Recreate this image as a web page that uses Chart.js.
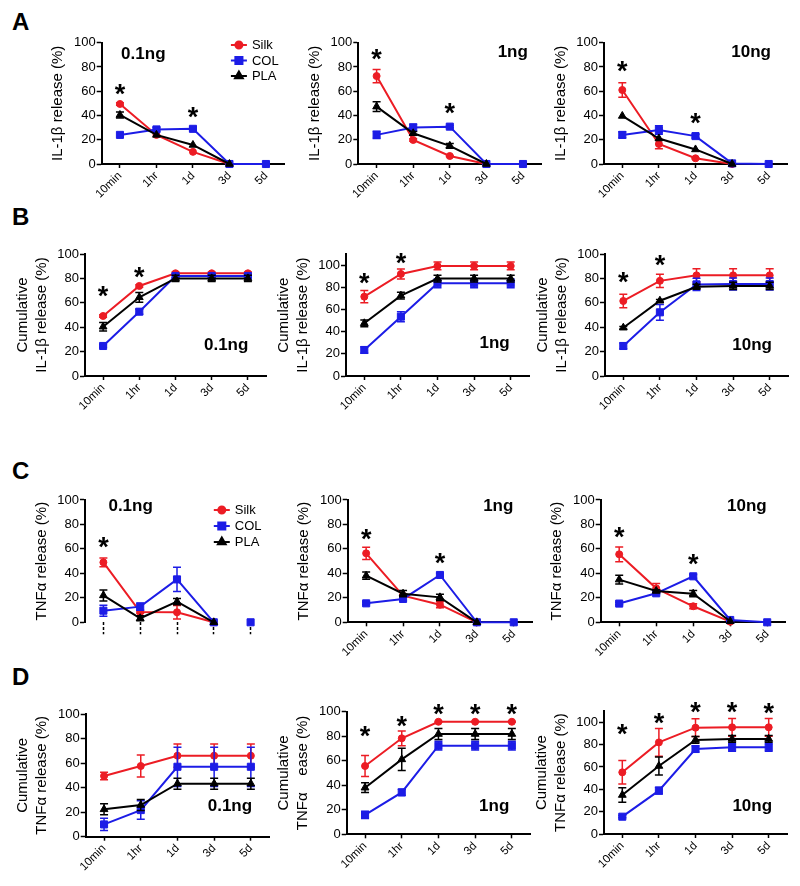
<!DOCTYPE html>
<html>
<head>
<meta charset="utf-8">
<script src="https://cdn.jsdelivr.net/npm/chart.js@4.4.1/dist/chart.umd.min.js"></script>
<style>
  body { margin: 0; background: #fff; }
  #fig { position: relative; width: 800px; height: 886px; overflow: hidden; background: #fff; }
  #fig canvas { position: absolute; }
  .letter { position: absolute; left: 12px; font: bold 24px Arial, 'Liberation Sans', sans-serif; line-height: 1; color: #000; }
</style>
</head>
<body>
<div id="fig">
  <div class="letter" style="top:10px">A</div>
  <div class="letter" style="top:205px">B</div>
  <div class="letter" style="top:459px">C</div>
  <div class="letter" style="top:665px">D</div>
</div>
<script>
Chart.defaults.font.family = "Arial, 'Liberation Sans', Helvetica, sans-serif";
Chart.defaults.color = '#000';

// Axis categories and ticks
const timepoints = ['10min', '1hr', '1d', '3d', '5d'];
const yTicks = [0, 20, 40, 60, 80, 100];
const seriesNames = ['Silk', 'COL', 'PLA'];

// Colors for the three scaffolds
const silkColor = '#ec1c24';
const colColor = '#1c1ce6';
const plaColor = '#000000';

// A - IL-1β release (%)
const il1bSilk01 = [49.5, 24, 10, 0, null];
const il1bSilk01Err = [1, 0, 0, 0, 0];
const il1bCol01 = [24, 28.5, 29, 0, 0];
const il1bCol01Err = [0, 1.5, 1.5, 0, 0];
const il1bPla01 = [40.4, 24, 15.7, 0, null];
const il1bPla01Err = [2.5, 0, 0, 0, 0];
const il1bStars01 = [62.4, null, 43.7, null, null];

const il1bSilk1 = [72.5, 19.8, 6.6, 0, null];
const il1bSilk1Err = [5.5, 1, 0.5, 0, 0];
const il1bCol1 = [24, 30, 30.8, 0, 0];
const il1bCol1Err = [3, 3, 1, 0, 0];
const il1bPla1 = [47.3, 25.3, 15, 0, null];
const il1bPla1Err = [4, 1.5, 2, 0, 0];
const il1bStars1 = [91.2, null, 47.3, null, null];

const il1bSilk10 = [61, 16.5, 4.7, 0, null];
const il1bSilk10Err = [6, 4, 0.5, 0, 0];
const il1bCol10 = [24, 28, 23, 0.5, 0];
const il1bCol10Err = [2.5, 3.5, 1.5, 0, 0];
const il1bPla10 = [39.6, 21, 12, 0, null];
const il1bPla10Err = [0, 0, 0, 0, 0];
const il1bStars10 = [81.6, null, 39, null, null];

// B - cumulative IL-1β release (%)
const cumIl1bSilk01 = [49.2, 73.8, 84.2, 84.2, 84.2];
const cumIl1bSilk01Err = [1, 1, 1, 1, 1];
const cumIl1bCol01 = [24.6, 52.7, 82, 82, 82];
const cumIl1bCol01Err = [1, 2, 1.5, 1.5, 1.5];
const cumIl1bPla01 = [40.4, 64.5, 80, 80, 80];
const cumIl1bPla01Err = [3.5, 4, 2.5, 2.5, 2.5];
const cumIl1bStars01 = [70.5, 86.3, null, null, null];

const cumIl1bSilk1 = [71.7, 92.2, 99.4, 99.4, 99.4];
const cumIl1bSilk1Err = [5.5, 4.5, 3.5, 3.5, 3.5];
const cumIl1bCol1 = [23.5, 53.6, 83.7, 83.7, 83.7];
const cumIl1bCol1Err = [3, 4.5, 4, 4, 4];
const cumIl1bPla1 = [47.6, 72.6, 88, 88, 88];
const cumIl1bPla1Err = [3, 3, 3, 3, 3];
const cumIl1bStars1 = [89.8, 107.8, null, null, null];

const cumIl1bSilk10 = [61.5, 78, 82.5, 82.5, 82.5];
const cumIl1bSilk10Err = [5.5, 5.5, 5.5, 5.5, 5.5];
const cumIl1bCol10 = [24.6, 52.2, 75.1, 75.4, 75.4];
const cumIl1bCol10Err = [2.5, 6.5, 5, 5, 5];
const cumIl1bPla10 = [39.6, 61.7, 73.2, 73.8, 73.8];
const cumIl1bPla10Err = [1, 1, 2, 3, 3];
const cumIl1bStars10 = [82, 95.6, null, null, null];

// C - TNFα release (%)
const tnfSilk01 = [49, 8.4, 8.2, 0, null];
const tnfSilk01Err = [3.5, 1, 5.5, 0, 0];
const tnfCol01 = [9.5, 12.8, 35.1, 0, 0];
const tnfCol01Err = [4.5, 3, 10, 0, 0];
const tnfPla01 = [22, 3.3, 16.9, 0, null];
const tnfPla01Err = [4.5, 2, 2.5, 0, 0];
const tnfStars01 = [66.8, null, null, null, null];

const tnfSilk1 = [56.4, 21.8, 14.4, 0, null];
const tnfSilk1Err = [5, 1, 2.5, 0, 0];
const tnfCol1 = [15.5, 19.1, 38.7, 0, 0];
const tnfCol1Err = [1, 1.5, 1.5, 0, 0];
const tnfPla1 = [38.1, 23.4, 20.4, 0, null];
const tnfPla1Err = [3, 2.5, 2.5, 0, 0];
const tnfStars1 = [73.3, null, 53.1, null, null];

const tnfSilk10 = [55.6, 27.8, 13.1, 0.5, null];
const tnfSilk10Err = [6, 4, 2, 0, 0];
const tnfCol10 = [15.3, 23.7, 37.6, 1.9, 0];
const tnfCol10Err = [1, 1, 1.5, 0.5, 0];
const tnfPla10 = [34.9, 25.6, 23.4, 0.8, null];
const tnfPla10Err = [3.5, 1, 2.5, 0, 0];
const tnfStars10 = [75, null, 52.3, null, null];

// D - cumulative TNFα release (%)
const cumTnfSilk01 = [49.5, 57.6, 66, 66, 66];
const cumTnfSilk01Err = [3, 9, 9.5, 9.5, 9.5];
const cumTnfCol01 = [10, 21.7, 57, 57, 57];
const cumTnfCol01Err = [5, 7.5, 16, 16, 16];
const cumTnfPla01 = [22.3, 25.8, 43.2, 43.2, 43.2];
const cumTnfPla01Err = [4.5, 4.5, 4.5, 4.5, 4.5];
const cumTnfStars01 = [null, null, null, null, null];

const cumTnfSilk1 = [55.7, 78.3, 91.8, 91.8, 91.8];
const cumTnfSilk1Err = [8.5, 6, 0.5, 0.5, 0.5];
const cumTnfCol1 = [15.8, 34.2, 72.3, 72.3, 72.3];
const cumTnfCol1Err = [3, 2.5, 3.5, 3.5, 3.5];
const cumTnfPla1 = [38, 61.1, 81.8, 81.8, 81.8];
const cumTnfPla1Err = [4, 9, 4.5, 4.5, 4.5];
const cumTnfStars1 = [85, 93.2, 103.3, 103.3, 102.7];

const cumTnfSilk10 = [55.2, 82, 95.2, 95.5, 95.5];
const cumTnfSilk10Err = [10.5, 12.5, 8, 8, 8];
const cumTnfCol10 = [15.5, 38.8, 76.1, 77.6, 77.6];
const cumTnfCol10Err = [1, 3, 3, 3.5, 3.5];
const cumTnfPla10 = [34.9, 60.9, 84.2, 85.1, 85.1];
const cumTnfPla10Err = [6.5, 8, 3, 3, 3];
const cumTnfStars10 = [94.6, 105, 114.6, 114.6, 114];

const il1bTitle = 'IL-1β release (%)';
const cumIl1bTitle = ['Cumulative', 'IL-1β release (%)'];
const tnfTitle = 'TNFα release (%)';
const cumTnfTitle = ['Cumulative', 'TNFα release (%)'];
const cumTnfTitleCut = ['Cumulative', 'TNFα    ease (%)'];

const seriesStyle = [
    { color: silkColor, pointStyle: 'circle', radius: 3.5, order: 3 },
    { color: colColor, pointStyle: 'rect', radius: 5, order: 2 },
    { color: plaColor, pointStyle: 'triangle', radius: 4.5, order: 1 }
];

// Panel placement (plot area position on the page) and annotations
const panels = [
    { title: il1bTitle, dose: '0.1ng', doseAt: [0.64, 90.4], legend: [3.04, 98.1, 15.5],
      axisX: 101.7, plotW: 182.5, y0: 164, pxPer: 1.213, ymax: 100,
      series: [il1bSilk01, il1bCol01, il1bPla01], errs: [il1bSilk01Err, il1bCol01Err, il1bPla01Err], stars: il1bStars01 },
    { title: il1bTitle, dose: '1ng', doseAt: [3.72, 91.8],
      axisX: 358.3, plotW: 183, y0: 164, pxPer: 1.213, ymax: 100,
      series: [il1bSilk1, il1bCol1, il1bPla1], errs: [il1bSilk1Err, il1bCol1Err, il1bPla1Err], stars: il1bStars1 },
    { title: il1bTitle, dose: '10ng', doseAt: [3.52, 91.8],
      axisX: 604, plotW: 183, y0: 164, pxPer: 1.213, ymax: 100,
      series: [il1bSilk10, il1bCol10, il1bPla10], errs: [il1bSilk10Err, il1bCol10Err, il1bPla10Err], stars: il1bStars10 },

    { title: cumIl1bTitle, dose: '0.1ng', doseAt: [3.40, 25.4],
      axisX: 85, plotW: 181, y0: 376, pxPer: 1.22, ymax: 100,
      series: [cumIl1bSilk01, cumIl1bCol01, cumIl1bPla01], errs: [cumIl1bSilk01Err, cumIl1bCol01Err, cumIl1bPla01Err], stars: cumIl1bStars01 },
    { title: cumIl1bTitle, dose: '1ng', doseAt: [3.56, 29.5],
      axisX: 346, plotW: 183, y0: 376, pxPer: 1.107, ymax: 110,
      series: [cumIl1bSilk1, cumIl1bCol1, cumIl1bPla1], errs: [cumIl1bSilk1Err, cumIl1bCol1Err, cumIl1bPla1Err], stars: cumIl1bStars1 },
    { title: cumIl1bTitle, dose: '10ng', doseAt: [3.52, 25.4],
      axisX: 605, plotW: 183, y0: 376, pxPer: 1.22, ymax: 100,
      series: [cumIl1bSilk10, cumIl1bCol10, cumIl1bPla10], errs: [cumIl1bSilk10Err, cumIl1bCol10Err, cumIl1bPla10Err], stars: cumIl1bStars10 },

    { title: tnfTitle, dose: '0.1ng', doseAt: [0.74, 94.5], legend: [3.0, 91.8, 16], bareX: true,
      axisX: 85, plotW: 184, y0: 622.3, pxPer: 1.223, ymax: 100,
      series: [tnfSilk01, tnfCol01, tnfPla01], errs: [tnfSilk01Err, tnfCol01Err, tnfPla01Err], stars: tnfStars01 },
    { title: tnfTitle, dose: '1ng', doseAt: [3.58, 94.5],
      axisX: 347.7, plotW: 184.5, y0: 622.3, pxPer: 1.223, ymax: 100,
      series: [tnfSilk1, tnfCol1, tnfPla1], errs: [tnfSilk1Err, tnfCol1Err, tnfPla1Err], stars: tnfStars1 },
    { title: tnfTitle, dose: '10ng', doseAt: [3.45, 94.5],
      axisX: 600.7, plotW: 185, y0: 622.3, pxPer: 1.223, ymax: 100,
      series: [tnfSilk10, tnfCol10, tnfPla10], errs: [tnfSilk10Err, tnfCol10Err, tnfPla10Err], stars: tnfStars10 },

    { title: cumTnfTitle, dose: '0.1ng', doseAt: [3.43, 24.5],
      axisX: 85.7, plotW: 183.5, y0: 836.7, pxPer: 1.227, ymax: 100,
      series: [cumTnfSilk01, cumTnfCol01, cumTnfPla01], errs: [cumTnfSilk01Err, cumTnfCol01Err, cumTnfPla01Err], stars: cumTnfStars01 },
    { title: cumTnfTitleCut, dose: '1ng', doseAt: [3.52, 22.5],
      axisX: 346.7, plotW: 183.5, y0: 834.3, pxPer: 1.226, ymax: 100,
      series: [cumTnfSilk1, cumTnfCol1, cumTnfPla1], errs: [cumTnfSilk1Err, cumTnfCol1Err, cumTnfPla1Err], stars: cumTnfStars1 },
    { title: cumTnfTitle, dose: '10ng', doseAt: [3.55, 24.4],
      axisX: 604, plotW: 183, y0: 834, pxPer: 1.117, ymax: 110,
      series: [cumTnfSilk10, cumTnfCol10, cumTnfPla10], errs: [cumTnfSilk10Err, cumTnfCol10Err, cumTnfPla10Err], stars: cumTnfStars10 }
];

// Error bars, asterisks, dose labels and the small legends
const panelExtras = {
    id: 'panelExtras',
    beforeDatasetDraw(chart, args) {
        const ds = chart.data.datasets[args.index];
        if (!ds.errors) return;
        const yScale = chart.scales.y;
        const ctx = chart.ctx;
        ctx.save();
        ctx.strokeStyle = ds.borderColor;
        ctx.lineWidth = 1.5;
        args.meta.data.forEach((pt, i) => {
            const v = ds.data[i];
            const e = ds.errors[i];
            if (v == null || !e) return;
            const yt = yScale.getPixelForValue(v + e);
            const yb = yScale.getPixelForValue(Math.max(v - e, 0));
            ctx.beginPath();
            ctx.moveTo(pt.x, yt); ctx.lineTo(pt.x, yb);
            ctx.moveTo(pt.x - 4, yt); ctx.lineTo(pt.x + 4, yt);
            ctx.moveTo(pt.x - 4, yb); ctx.lineTo(pt.x + 4, yb);
            ctx.stroke();
        });
        ctx.restore();
    },
    afterDraw(chart, args, opts) {
        const ctx = chart.ctx;
        const xs = chart.scales.x;
        const ys = chart.scales.y;
        ctx.save();
        ctx.fillStyle = '#000';
        ctx.textAlign = 'center';
        ctx.textBaseline = 'alphabetic';

        // significance asterisks
        ctx.font = "bold 27px Arial, 'Liberation Sans', sans-serif";
        opts.stars.forEach((v, i) => {
            if (v == null) return;
            ctx.fillText('*', xs.getPixelForValue(i), ys.getPixelForValue(v) + 15);
        });

        // dose label
        ctx.font = "bold 17px Arial, 'Liberation Sans', sans-serif";
        ctx.fillText(opts.dose, xs.getPixelForValue(opts.doseAt[0]), ys.getPixelForValue(opts.doseAt[1]) + 4.5);

        // legend
        if (opts.legend) {
            const [li, lv, gap] = opts.legend;
            const lx = xs.getPixelForValue(li);
            const ly = ys.getPixelForValue(lv);
            ctx.font = "13px Arial, 'Liberation Sans', sans-serif";
            ctx.textAlign = 'left';
            ctx.textBaseline = 'middle';
            chart.data.datasets.forEach((ds, k) => {
                const y = ly + k * gap;
                ctx.strokeStyle = ds.borderColor;
                ctx.fillStyle = ds.borderColor;
                ctx.lineWidth = 2;
                ctx.beginPath();
                ctx.moveTo(lx, y); ctx.lineTo(lx + 16, y);
                ctx.stroke();
                Chart.helpers.drawPoint(ctx, {
                    pointStyle: ds.pointStyle, radius: ds.pointRadius, rotation: 0, borderWidth: 1
                }, lx + 8, y);
                ctx.fillStyle = '#000';
                ctx.fillText(ds.label, lx + 21, y + 0.5);
            });
        }
        ctx.restore();
    }
};

const fig = document.getElementById('fig');

panels.forEach(p => {
    const plotH = p.ymax * p.pxPer;
    const plotTop = p.y0 - plotH;
    const left = Math.floor(p.axisX - 76);
    const top = Math.floor(plotTop - 32);
    const width = Math.ceil(p.axisX + p.plotW + 14) - left;
    const height = Math.ceil(p.y0 + 46) - top;
    const yAxisW = p.axisX - left;
    const padTop = plotTop - top;
    const padRight = width - yAxisW - p.plotW;
    const xAxisH = height - (p.y0 - top);
    const twoLine = Array.isArray(p.title);

    const canvas = document.createElement('canvas');
    canvas.width = width;
    canvas.height = height;
    canvas.style.left = left + 'px';
    canvas.style.top = top + 'px';
    canvas.style.width = width + 'px';
    canvas.style.height = height + 'px';
    fig.appendChild(canvas);

    const datasets = p.series.map((vals, k) => ({
        label: seriesNames[k],
        data: vals,
        errors: p.errs[k],
        borderColor: seriesStyle[k].color,
        backgroundColor: seriesStyle[k].color,
        pointBackgroundColor: seriesStyle[k].color,
        pointBorderColor: seriesStyle[k].color,
        pointStyle: seriesStyle[k].pointStyle,
        pointRadius: seriesStyle[k].radius,
        pointBorderWidth: 1,
        borderWidth: 2,
        tension: 0,
        clip: false,
        order: seriesStyle[k].order,
        segment: {
            borderColor: ctx => (p.bareX && ctx.p1DataIndex === 4) ? 'rgba(0,0,0,0)' : undefined
        }
    }));

    new Chart(canvas, {
        type: 'line',
        data: { labels: timepoints, datasets: datasets },
        options: {
            responsive: false,
            animation: false,
            events: [],
            layout: { padding: { top: padTop, right: padRight, left: 0, bottom: 0 } },
            plugins: {
                legend: { display: false },
                tooltip: { enabled: false },
                panelExtras: { stars: p.stars, dose: p.dose, doseAt: p.doseAt, legend: p.legend }
            },
            scales: {
                x: {
                    type: 'category',
                    offset: true,
                    border: { display: !p.bareX, width: 2, color: '#000' },
                    grid: {
                        display: true, drawOnChartArea: false, drawTicks: true,
                        tickLength: p.bareX ? 12 : 4, tickWidth: 1.5, tickColor: '#000',
                        tickBorderDash: p.bareX ? [3, 2] : []
                    },
                    ticks: {
                        display: !p.bareX, autoSkip: false, minRotation: 45, maxRotation: 45,
                        padding: 1, color: '#000', font: { size: 11.5 }
                    },
                    afterFit: s => { s.height = xAxisH; }
                },
                y: {
                    min: 0,
                    max: p.ymax,
                    afterBuildTicks: s => { s.ticks = yTicks.map(v => ({ value: v })); },
                    border: { display: true, width: 2, color: '#000' },
                    grid: {
                        display: true, drawOnChartArea: false, drawTicks: true,
                        tickLength: 5, tickWidth: 1.5, tickColor: '#000'
                    },
                    ticks: { padding: 1, color: '#000', font: { size: 13 } },
                    title: {
                        display: true, text: p.title, color: '#000',
                        font: { size: 15, lineHeight: 1.27 },
                        padding: { top: twoLine ? 4.5 : 23, bottom: 0 }
                    },
                    afterFit: s => { s.width = yAxisW; }
                }
            }
        },
        plugins: [panelExtras]
    });
});
</script>
</body>
</html>
